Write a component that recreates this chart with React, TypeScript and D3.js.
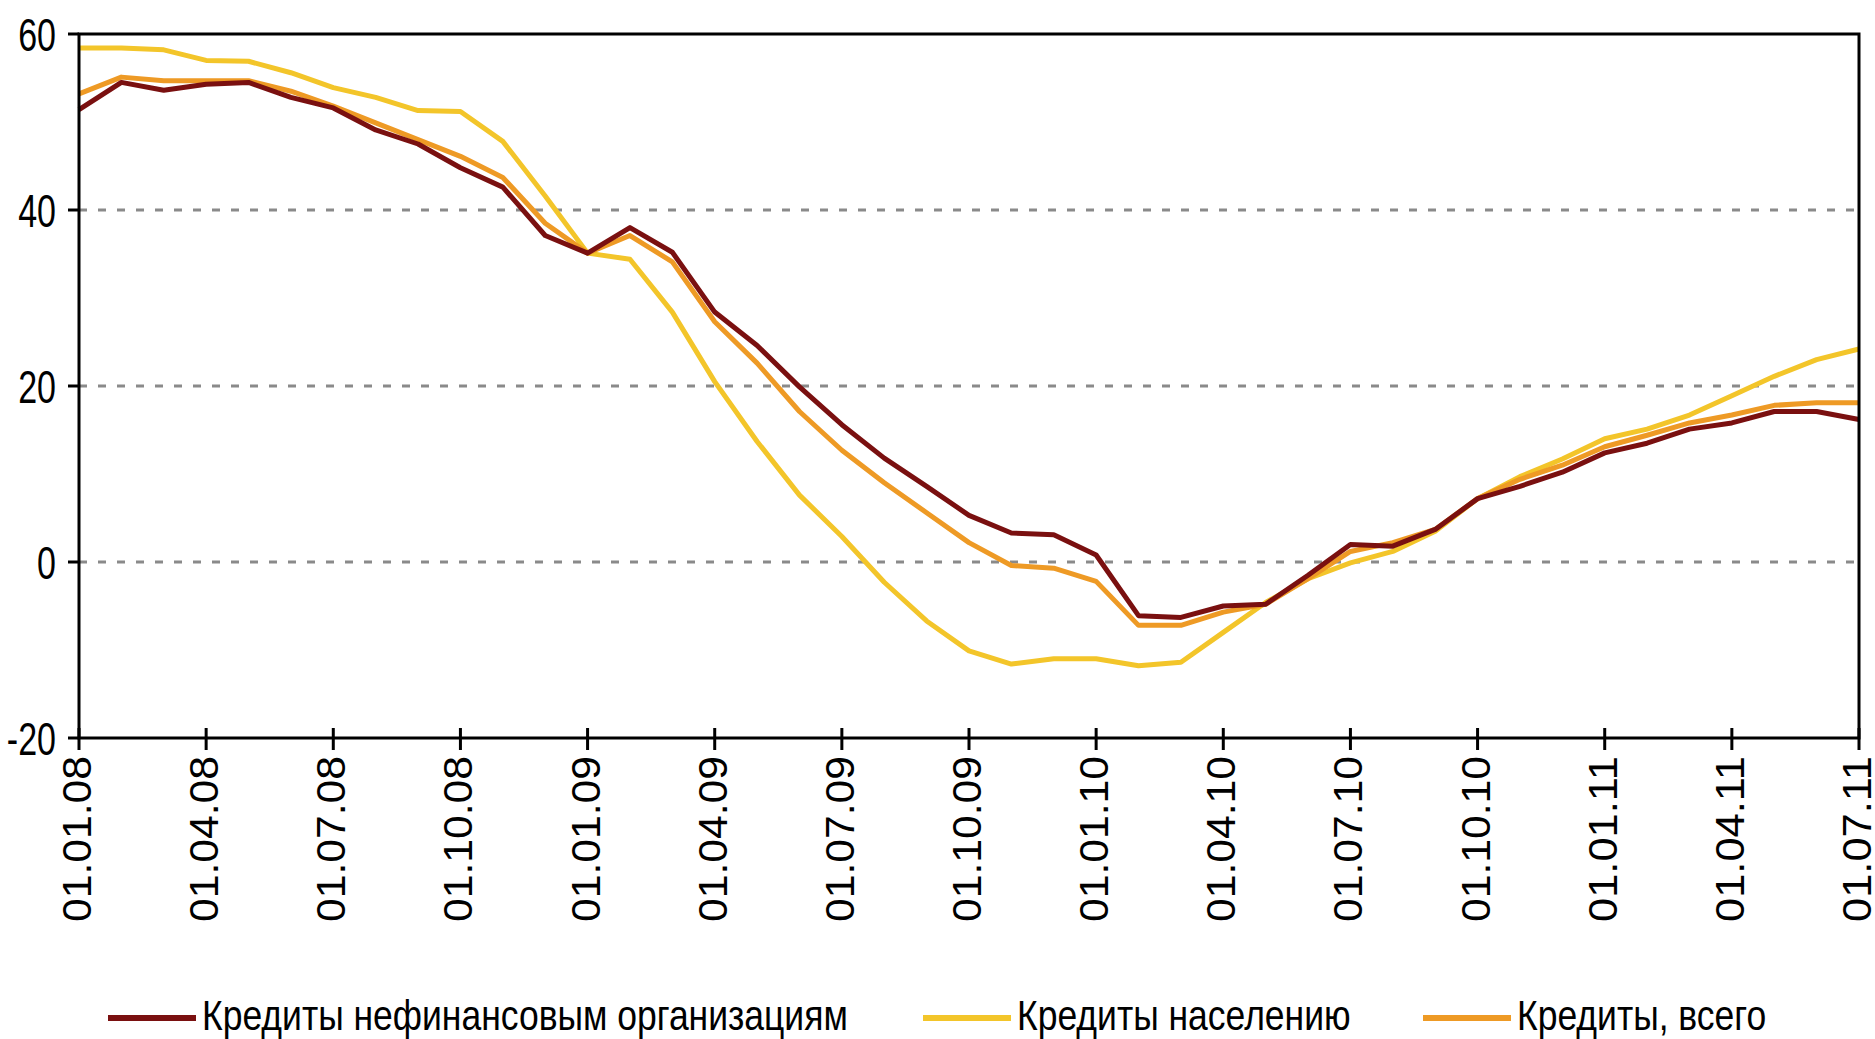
import React, { useEffect, useRef } from 'react';
import * as d3 from 'd3';

// monthly dates, 01.01.08 .. 01.07.11
const months = [
  '01.01.08', '01.02.08', '01.03.08', '01.04.08', '01.05.08', '01.06.08',
  '01.07.08', '01.08.08', '01.09.08', '01.10.08', '01.11.08', '01.12.08',
  '01.01.09', '01.02.09', '01.03.09', '01.04.09', '01.05.09', '01.06.09',
  '01.07.09', '01.08.09', '01.09.09', '01.10.09', '01.11.09', '01.12.09',
  '01.01.10', '01.02.10', '01.03.10', '01.04.10', '01.05.10', '01.06.10',
  '01.07.10', '01.08.10', '01.09.10', '01.10.10', '01.11.10', '01.12.10',
  '01.01.11', '01.02.11', '01.03.11', '01.04.11', '01.05.11', '01.06.11',
  '01.07.11',
];

// Кредиты нефинансовым организациям
const corporate = [
  51.4, 54.5, 53.6, 54.3, 54.5, 52.8, 51.6, 49.1, 47.5, 44.8, 42.6, 37.1,
  35.1, 38.0, 35.2, 28.4, 24.6, 19.9, 15.6, 11.8, 8.6, 5.3, 3.3, 3.1,
  0.8, -6.1, -6.3, -5.0, -4.8, -1.5, 2.0, 1.8, 3.7, 7.2, 8.6, 10.2,
  12.4, 13.5, 15.1, 15.8, 17.1, 17.1, 16.2,
];

// Кредиты населению
const households = [
  58.4, 58.4, 58.2, 57.0, 56.9, 55.6, 53.9, 52.8, 51.3, 51.2, 47.8, 41.6,
  35.1, 34.4, 28.4, 20.5, 13.7, 7.6, 2.9, -2.3, -6.7, -10.1, -11.6, -11.0,
  -11.0, -11.8, -11.4, -8.0, -4.6, -1.9, -0.1, 1.2, 3.5, 7.2, 9.7, 11.7,
  14.0, 15.1, 16.7, 18.9, 21.1, 23.0, 24.2,
];

// Кредиты, всего
const total = [
  53.2, 55.1, 54.7, 54.7, 54.7, 53.5, 51.8, 49.9, 48.0, 46.1, 43.7, 38.5,
  35.1, 37.1, 34.1, 27.3, 22.6, 17.1, 12.7, 9.0, 5.6, 2.2, -0.4, -0.7,
  -2.2, -7.2, -7.2, -5.7, -4.8, -1.9, 1.2, 2.2, 3.7, 7.2, 9.4, 11.0,
  13.1, 14.4, 15.8, 16.7, 17.8, 18.1, 18.1,
];

const yTicks = [-20, 0, 20, 40, 60];
const gridValues = [0, 20, 40];

const seriesNames = ['Кредиты нефинансовым организациям', 'Кредиты населению', 'Кредиты, всего'];
const seriesColors = ['#7a1010', '#f3c52a', '#ee9a25'];

const W = 1875;
const H = 1039;

const App = () => {
  const svgRef = useRef(null);

  useEffect(() => {
    const margin = { top: 34, right: 16, bottom: 301, left: 79 };
    const svg = d3.select(svgRef.current);
    svg.selectAll('*').remove();

    const x = d3.scaleLinear()
      .domain([0, months.length - 1])
      .range([margin.left, W - margin.right]);
    const y = d3.scaleLinear()
      .domain([-20, 60])
      .range([H - margin.bottom, margin.top]);

    svg.append('rect').attr('width', W).attr('height', H).attr('fill', '#fff');

    // dashed grid
    svg.append('g')
      .selectAll('line')
      .data(gridValues)
      .enter().append('line')
      .attr('x1', margin.left)
      .attr('x2', W - margin.right)
      .attr('y1', d => y(d))
      .attr('y2', d => y(d))
      .attr('stroke', '#8a8a8a')
      .attr('stroke-width', 3)
      .attr('stroke-dasharray', '8 11');

    // lines
    const series = [corporate, households, total];
    const line = d3.line<number>()
      .x((d, i) => x(i))
      .y(d => y(d));
    // households first, then total, corporate on top
    [1, 2, 0].forEach(k => {
      svg.append('path')
        .datum(series[k])
        .attr('d', line)
        .attr('fill', 'none')
        .attr('stroke', seriesColors[k])
        .attr('stroke-width', 5)
        .attr('stroke-linejoin', 'round');
    });

    // frame
    svg.append('rect')
      .attr('x', margin.left)
      .attr('y', margin.top)
      .attr('width', W - margin.right - margin.left)
      .attr('height', H - margin.bottom - margin.top)
      .attr('fill', 'none')
      .attr('stroke', '#000')
      .attr('stroke-width', 3);

    // y axis ticks + labels
    const yAxis = svg.append('g');
    yAxis.selectAll('line')
      .data(yTicks)
      .enter().append('line')
      .attr('x1', margin.left - 11)
      .attr('x2', margin.left)
      .attr('y1', d => y(d))
      .attr('y2', d => y(d))
      .attr('stroke', '#000')
      .attr('stroke-width', 3);
    yAxis.selectAll('g')
      .data(yTicks)
      .enter().append('g')
      .attr('transform', d => `translate(56,${y(d)}) scale(0.74,1)`)
      .append('text')
      .attr('text-anchor', 'end')
      .attr('dy', '0.36em')
      .attr('font-family', 'Liberation Sans, Arial, sans-serif')
      .attr('font-size', 46)
      .attr('fill', '#000')
      .text(d => d);

    // x axis ticks (quarterly)
    const quarterIdx = months.map((m, i) => i).filter(i => i % 3 === 0);
    const xAxis = svg.append('g');
    xAxis.selectAll('line')
      .data(quarterIdx)
      .enter().append('line')
      .attr('x1', d => x(d))
      .attr('x2', d => x(d))
      .attr('y1', y(-20) - 10)
      .attr('y2', y(-20) + 12)
      .attr('stroke', '#000')
      .attr('stroke-width', 3);
    xAxis.selectAll('text')
      .data(quarterIdx)
      .enter().append('text')
      .attr('transform', d => `translate(${x(d)},${y(-20) + 18}) rotate(-90)`)
      .attr('text-anchor', 'end')
      .attr('dy', '0.3em')
      .attr('font-family', 'Liberation Sans, Arial, sans-serif')
      .attr('font-size', 40)
      .attr('textLength', 166)
      .attr('lengthAdjust', 'spacingAndGlyphs')
      .attr('fill', '#000')
      .text(d => months[d]);

    // legend
    const legendX = [108, 923, 1423];
    const legend = svg.append('g');
    seriesNames.forEach((name, k) => {
      legend.append('line')
        .attr('x1', legendX[k])
        .attr('x2', legendX[k] + 88)
        .attr('y1', 1018)
        .attr('y2', 1018)
        .attr('stroke', seriesColors[k])
        .attr('stroke-width', 6);
      legend.append('g')
        .attr('transform', `translate(${legendX[k] + 94},1030) scale(0.845,1)`)
        .append('text')
        .attr('font-family', 'Liberation Sans, Arial, sans-serif')
        .attr('font-size', 42)
        .attr('fill', '#000')
        .text(name);
    });
  }, []);

  return (
    <svg
      ref={svgRef}
      width={W}
      height={H}
      style={{ position: 'absolute', left: 0, top: 0 }}
    />
  );
};

export default App;
